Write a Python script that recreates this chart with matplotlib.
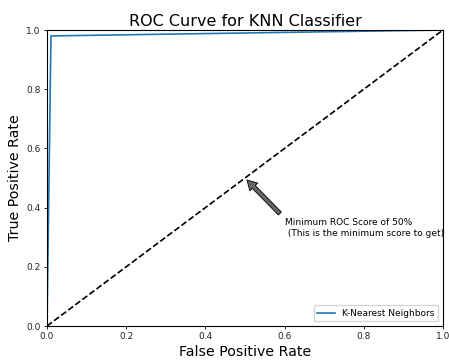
import matplotlib
matplotlib.use("Agg")
import matplotlib.pyplot as plt

fpr = [0.0, 0.01, 1.0]
tpr = [0.0, 0.98, 1.0]
diag = [0.0, 1.0]
ticks = [0.0, 0.2, 0.4, 0.6, 0.8, 1.0]

fig = plt.figure(figsize=(4.49, 3.61), dpi=100)
ax = fig.add_axes([47/449, 1 - 326/361, (443-47)/449, (326-30)/361])
ax.plot(fpr, tpr, color='#1f77b4', lw=1.2, label='K-Nearest Neighbors')
ax.plot(diag, diag, 'k--', lw=1.2)
ax.set_xlim(0, 1)
ax.set_ylim(0, 1)
ax.set_xticks(ticks)
ax.set_yticks(ticks)
ax.tick_params(labelsize=6.5, length=2.5, width=0.6, pad=2, labelcolor='#222222')
for s in ax.spines.values():
    s.set_linewidth(0.8)
ax.set_title('ROC Curve for KNN Classifier', fontsize=11.5, pad=3)
ax.set_xlabel('False Positive Rate', fontsize=10.2, labelpad=3)
ax.set_ylabel('True Positive Rate', fontsize=10.2, labelpad=3)
ax.annotate('Minimum ROC Score of 50%\n (This is the minimum score to get)',
            xy=(0.5, 0.5), xytext=(0.6, 0.305), fontsize=6.5,
            arrowprops=dict(facecolor='#666666', edgecolor='black', shrink=0.05,
                            width=3, headwidth=8, headlength=7, lw=0.6))
ax.legend(loc='lower right', fontsize=6.5, handlelength=2)
fig.savefig('out.png', dpi=100)
